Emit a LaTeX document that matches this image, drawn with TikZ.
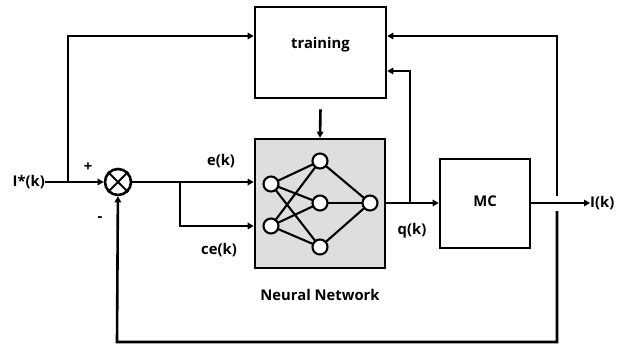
\documentclass[tikz,border=0pt]{standalone}
\usepackage{fontspec}
\setmainfont{Open Sans}
\usetikzlibrary{arrows.meta}
\begin{document}
\begin{tikzpicture}[x=1pt,y=-1pt,
  every node/.style={font=\fontsize{14.8}{16}\selectfont\bfseries},
  wire/.style={line width=2.6pt},
  arr/.style={wire,-{Triangle[length=6pt,width=6.5pt]}},
  block/.style={draw,line width=2.6pt,inner sep=0pt},
  neuron/.style={circle,draw,line width=2.1pt,fill=white,minimum size=15pt,inner sep=0pt},
  lbl/.style={inner sep=0pt}]
\useasboundingbox (0,0) rectangle (625,346);

% blocks
\node[block,minimum width=131pt,minimum height=91pt] (train) at (320.5,52.5) {};
\node[lbl] at (320.5,45) {training};
\node[block,fill=black!13,minimum width=130pt,minimum height=129pt] (nn) at (320,203.5) {};
\node[block,minimum width=90pt,minimum height=89pt] (mc) at (485,203.5) {};
\node[lbl] at (485,201) {MC};
\node[circle,draw,line width=2.6pt,minimum size=26pt,inner sep=0pt] (sum) at (118,182) {};
\draw[line width=2.1pt] (sum.45) -- (sum.225) (sum.135) -- (sum.315);

% neuron links, drawn first so the circles cover their ends
\coordinate (i1) at (271,184);
\coordinate (i2) at (271,226);
\coordinate (h1) at (320,161);
\coordinate (h2) at (320,203);
\coordinate (h3) at (320,247);
\coordinate (o1) at (370,203);
\foreach \a in {i1,i2}
  \foreach \b in {h1,h2,h3}
    \draw[line width=2.1pt] (\a) -- (\b);
\foreach \b in {h1,h2,h3}
  \draw[line width=2.1pt] (\b) -- (o1);
\foreach \n in {i1,i2,h1,h2,h3,o1} \node[neuron] (n\n) at (\n) {};

% labels
\node[lbl,anchor=east] (ref) at (45,182) {I*(k)};
\node[lbl] at (88,167) {+};
\node[lbl] at (100,219) {-};
\node[lbl] at (221,161) {e(k)};
\node[lbl] at (219,250) {ce(k)};
\node[lbl] at (412,231) {q(k)};
\node[lbl] at (320,295) {Neural Network};
\node[lbl,anchor=west] (out) at (590,203) {I(k)};

% coordinates
\coordinate (tl) at (68,36);
\coordinate (tap) at (68,182);
\coordinate (br) at (180,182);
\coordinate (brl) at (180,226);
\coordinate (qt) at (410,203);
\coordinate (qu) at (410,71);
\coordinate (fr) at (557,36);
\coordinate (fb) at (557,342);
\coordinate (fl) at (117,342);
\coordinate (gapu) at (557,196);
\coordinate (gapd) at (557,211);

% connectors
\draw[arr] (ref) -- (sum);
\draw[arr] (tap) -- (tl) -- (train.west |- tl);
\draw[wire] (sum) -- (br);
\draw[arr] (br) -- (nn.west |- br);
\draw[arr] (br) -- (brl) -- (nn.west |- brl);
\draw[arr] (train.south) ++(0,10) -- (nn.north);
\draw[arr] (nn.east |- qt) -- (mc.west |- qt);
\draw[arr] (qt) -- (qu) -- (train.east |- qu);
\draw[arr] (mc.east |- qt) -- (out);
\draw[arr] (gapu) -- (fr) -- (train.east |- fr);
\draw[arr] (gapd) -- (fb) -- (fl) -- (sum);
\end{tikzpicture}
\end{document}
